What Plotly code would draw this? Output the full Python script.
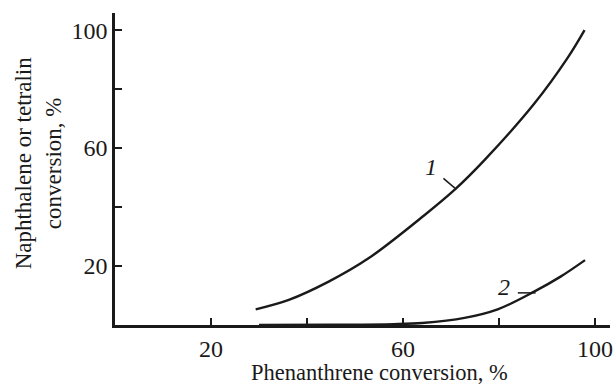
import plotly.graph_objects as go

# Curve 1
x1 = [29.3, 36.2, 44.5, 52.8, 64.5, 70.7, 77.0, 87.3, 94.2, 97.8]
y1 = [5.3, 8.5, 14.7, 22.6, 37.3, 45.8, 56.0, 75.0, 90.4, 100.0]
# Curve 2
x2 = [30, 45, 58, 64, 72.8, 79.7, 87.3, 92.8, 97.9]
y2 = [0.0, 0.1, 0.3, 0.7, 2.4, 5.3, 11.3, 16.4, 22.0]

tick_vals = [20, 40, 60, 80, 100]
tick_text = ["20", "", "60", "", "100"]

x_title = "Phenanthrene conversion, %"
y_title = "Naphthalene or tetralin<br>conversion, %"

# curve labels: text, label position, leader line start/end
curve_labels = [
    ("1", 65.8, 53.6, (68.4, 49.7), (70.8, 46.4)),
    ("2", 81.0, 13.0, (83.9, 10.9), (87.6, 10.9)),
]

FONT = "Liberation Serif"
INK = "#1a1a1a"
fig = go.Figure()
for xs, ys in [(x1, y1), (x2, y2)]:
    fig.add_trace(go.Scatter(x=xs, y=ys, mode="lines",
                             line=dict(color=INK, width=2.4, shape="spline", smoothing=1.0),
                             showlegend=False, hoverinfo="skip"))

for txt, lx, ly, p0, p1 in curve_labels:
    fig.add_annotation(x=lx, y=ly, text=f"<i>{txt}</i>", showarrow=False,
                       font=dict(family=FONT, size=24, color=INK))
    fig.add_shape(type="line", x0=p0[0], y0=p0[1], x1=p1[0], y1=p1[1],
                  line=dict(color=INK, width=1.5))

fig.add_annotation(xref="paper", yref="paper", x=0.535, y=0, yshift=-47,
                   text=x_title, showarrow=False, xanchor="center", yanchor="middle",
                   font=dict(family=FONT, size=22.5, color=INK))
fig.add_annotation(xref="paper", yref="paper", x=-0.155, y=0.519,
                   text=y_title, showarrow=False, textangle=-90,
                   xanchor="center", yanchor="middle",
                   font=dict(family=FONT, size=23, color=INK))

axis_common = dict(showgrid=False, zeroline=False, showline=True, linecolor=INK,
                   linewidth=2.5, ticks="inside", ticklen=7, tickwidth=1.5, tickcolor=INK,
                   tickvals=tick_vals, ticktext=tick_text, ticklabeloverflow="allow",
                   tickfont=dict(family=FONT, size=24, color=INK))

fig.update_layout(
    width=616, height=384,
    margin=dict(l=115, r=3, t=13, b=59),
    paper_bgcolor="white", plot_bgcolor="white",
    xaxis=dict(range=[0, 103.1], **axis_common),
    yaxis=dict(range=[0, 105.8], **axis_common),
)

fig.write_html("out.html")
